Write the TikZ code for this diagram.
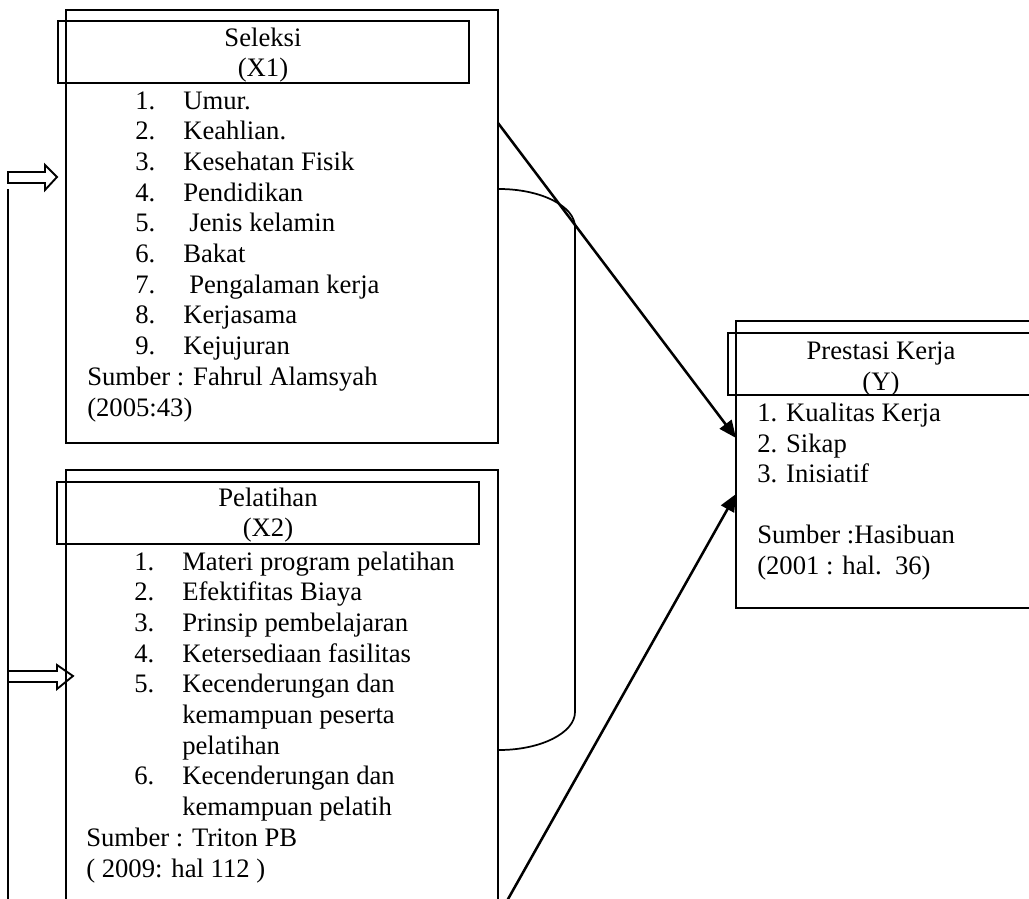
\documentclass[tikz,border=0pt]{standalone}
\usepackage{fontspec}
\setmainfont{Liberation Serif}
\usetikzlibrary{arrows.meta}
\usetikzlibrary{fit}

\tikzset{
  box/.style={draw, line width=1.8pt, inner sep=0pt},
  txt/.style={anchor=base west, inner sep=0pt, font=\fontsize{20pt}{23pt}\selectfont},
  ttl/.style={align=center, inner sep=0pt, font=\fontsize{20pt}{23pt}\selectfont},
  link/.style={-{Triangle[length=13pt,width=11pt]}, line width=1.9pt},
  hollow/.style={draw, line width=1.4pt},
  thin line/.style={line width=1.3pt}
}

\begin{document}
\begin{tikzpicture}[x=0.75pt, y=-0.75pt]
   \clip (0,0) rectangle (1029,899);
   % Seleksi (X1)
   \node[box, fit={(66,10) (498,443)}] (x1) {};
   \node[box, fit={(58,21) (469,83)}] (x1head) {};
   \node[ttl] (x1name) at (263,55) {Seleksi\\(X1)};
   \foreach \i/\dx/\t in {1/0/Umur., 2/0/Keahlian., 3/0/Kesehatan Fisik,
                          4/0/Pendidikan, 5/6/Jenis kelamin, 6/0/Bakat,
                          7/6/Pengalaman kerja, 8/0/Kerjasama, 9/0/Kejujuran}{
     \node[txt] (x1num\i) at (135,{109+30.7*(\i-1)}) {\i.};
     \node[txt] (x1item\i) at ({183+\dx},{109+30.7*(\i-1)}) {\t};
   }
   \node[txt] (x1src) at (87,385.3) {Sumber : Fahrul Alamsyah};
   \node[txt] (x1year) at (87,416) {(2005:43)};

   % Pelatihan (X2)
   \node[box, fit={(66,470) (498,930)}] (x2) {};
   \node[box, fit={(57,482) (479,544)}] (x2head) {};
   \node[ttl] (x2name) at (268,515) {Pelatihan\\(X2)};
   \foreach \i/\t in {1/Materi program pelatihan, 2/Efektifitas Biaya,
                      3/Prinsip pembelajaran, 4/Ketersediaan fasilitas}{
     \node[txt] (x2num\i) at (134,{570+30.7*(\i-1)}) {\i.};
     \node[txt] (x2item\i) at (182,{570+30.7*(\i-1)}) {\t};
   }
   \node[txt] (x2num5) at (134,692.8) {5.};
   \node[txt] (x2item5) at (182,692.8) {Kecenderungan dan};
   \node[txt] (x2item5b) at (182,723.5) {kemampuan peserta};
   \node[txt] (x2item5c) at (182,754.2) {pelatihan};
   \node[txt] (x2num6) at (134,784.9) {6.};
   \node[txt] (x2item6) at (182,784.9) {Kecenderungan dan};
   \node[txt] (x2item6b) at (182,815.6) {kemampuan pelatih};
   \node[txt] (x2src) at (86,846.3) {Sumber : Triton PB};
   \node[txt] (x2year) at (86,877) {( 2009: hal 112 )};

   % Prestasi Kerja (Y)
   \node[box, fit={(736,321) (1050,608)}] (y) {};
   \node[box, fit={(728,333) (1050,395)}] (yhead) {};
   \node[ttl] (yname) at (881,369) {Prestasi Kerja\\(Y)};
   \node[txt] (yitem1) at (757,421) {1. Kualitas Kerja};
   \node[txt] (yitem2) at (757,452) {2. Sikap};
   \node[txt] (yitem3) at (757,482) {3. Inisiatif};
   \node[txt] (ysrc) at (757,543) {Sumber :Hasibuan};
   \node[txt] (yyear) at (757,574) {(2001 : hal.~~36)};

   % connectors
   \coordinate (x1out) at (498,123);
   \coordinate (x2out) at (503,908);
   \coordinate (yin1) at (736,438);
   \coordinate (yin2) at (736,494);
   \draw[link] (x1out) -- (yin1);
   \draw[link] (x2out) -- (yin2);
   \draw[thin line] (x1.east |- 0,189) .. controls (540.5,189) and (575,206) .. (575,227)
      -- (575,712) .. controls (575,733) and (540.5,750) .. (x2.east |- 0,750);

   % feedback
   \coordinate (fbtop) at (8,189);
   \coordinate (fbend) at (8,910);
   \draw[thin line] (fbtop) -- (fbend);
   \draw[hollow] (8,172) -- (45,172) -- (45,165) -- (57,177) -- (45,190) -- (45,183) -- (8,183) -- cycle;
   \draw[hollow] (8,671) -- (57,671) -- (57,665) -- (73,676) -- (57,689) -- (57,682) -- (8,682) -- cycle;
\end{tikzpicture}
\end{document}
